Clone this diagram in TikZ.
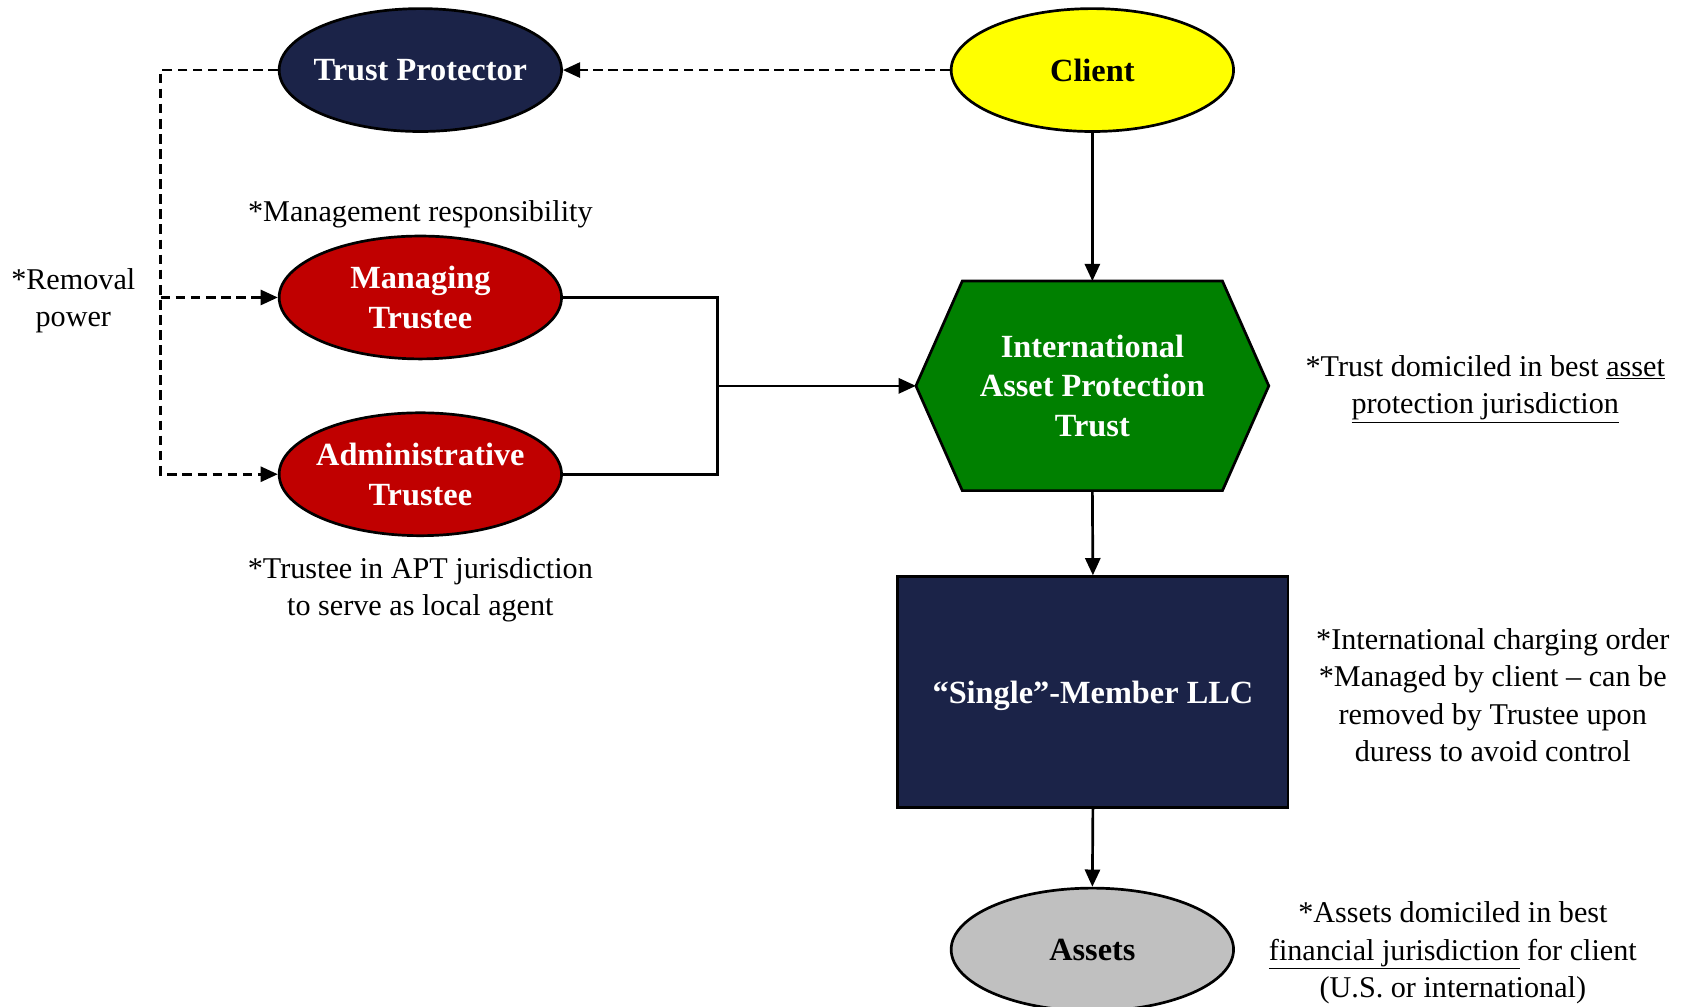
\documentclass[tikz,border=0pt]{standalone}
\usepackage{fontspec}
\setmainfont{Liberation Serif}
\usetikzlibrary{shapes.geometric,arrows.meta,calc}

\definecolor{navy}{RGB}{27,35,72}
\definecolor{trred}{RGB}{192,0,0}
\definecolor{trgreen}{RGB}{0,128,0}
\definecolor{clientyellow}{RGB}{255,255,0}
\definecolor{assetgray}{RGB}{192,192,192}

\tikzset{
  oval/.style={ellipse, draw=black, line width=2.5pt, minimum width=262pt,
               minimum height=114pt, inner sep=0pt},
  title/.style={font=\fontsize{30}{37}\selectfont\bfseries, align=center, inner sep=0pt},
  note/.style={font=\fontsize{28}{34.5}\selectfont, align=center, inner sep=0pt},
  link/.style={line width=2.5pt},
  dashlink/.style={line width=2.5pt, dash pattern=on 9pt off 5pt},
  tip/.style={-{Triangle[length=16pt,width=14pt]}},
}

\begin{document}
\begin{tikzpicture}[x=1pt,y=-1pt]
\useasboundingbox (0,0) rectangle (1568,934);

% people and parties
\node[oval, fill=navy, label={[title,text=white]center:Trust Protector}] (tp) at (390,65) {};
\node[oval, fill=clientyellow, label={[title,text=black]center:Client}] (client) at (1013.5,65) {};
\node[oval, fill=trred, label={[title,text=white]center:Managing\\Trustee}] (mt) at (390,276) {};
\node[oval, fill=trred, label={[title,text=white]center:Administrative\\Trustee}] (at) at (390,440) {};

% the trust: a flat hexagon built on a rectangular node
\node[draw=none, minimum width=327pt, minimum height=194pt, inner sep=0pt] (iapt) at (1013.5,358) {};
\fill[trgreen, draw=black, line width=2.5pt, line join=miter]
  ($(iapt.north west)+(43,0)$) -- ($(iapt.north east)+(-43,0)$) -- (iapt.east)
  -- ($(iapt.south east)+(-43,0)$) -- ($(iapt.south west)+(43,0)$) -- (iapt.west) -- cycle;
\node[title, text=white] (iapt-text) at (iapt.center) {International\\Asset Protection\\Trust};

% the company and its assets
\node[draw=black, fill=navy, line width=2.5pt, minimum width=362pt, minimum height=214pt,
      inner sep=0pt, label={[title,text=white,yshift=-4pt]center:“Single”-Member LLC}] (llc) at (1014,642) {};
\node[oval, fill=assetgray, label={[title,text=black]center:Assets}] (assets) at (1013.5,881) {};

% solid flow
\draw[link, tip] (client.south) -- (iapt.north);
\draw[link, tip] (iapt.south) -- (llc.north);
\draw[link, tip] (llc.south) -- (assets.north);
\coordinate (join) at (666,358);
\draw[link] (mt.east) -| (join) |- (at.east);
\draw[link, tip] (join) -- (iapt.west);

% dashed control lines
\draw[dashlink, tip] (client.west) -- (tp.east);
\coordinate (rail) at (149,276);
\draw[dashlink, tip] (tp.west) -| (rail) |- (at.west);
\draw[dashlink, tip] (rail) -- (mt.west);

% annotations
\node[note] (n-mgmt) at (390,199) {*Management responsibility};
\node[note] (n-removal) at (68,279) {*Removal\\power};
\node[note] (n-local) at (390,547) {*Trustee in APT jurisdiction\\to serve as local agent};
\node[note] (n-trust) at (1378,361) {*Trust domiciled in best \underline{asset}\\\underline{protection jurisdiction}};
\node[note] (n-llc) at (1385,645) {*International charging order\\*Managed by client – can be\\removed by Trustee upon\\duress to avoid control};
\node[note] (n-assets) at (1348,884) {*Assets domiciled in best\\\underline{financial jurisdiction} for client\\(U.S. or international)};
\end{tikzpicture}
\end{document}
